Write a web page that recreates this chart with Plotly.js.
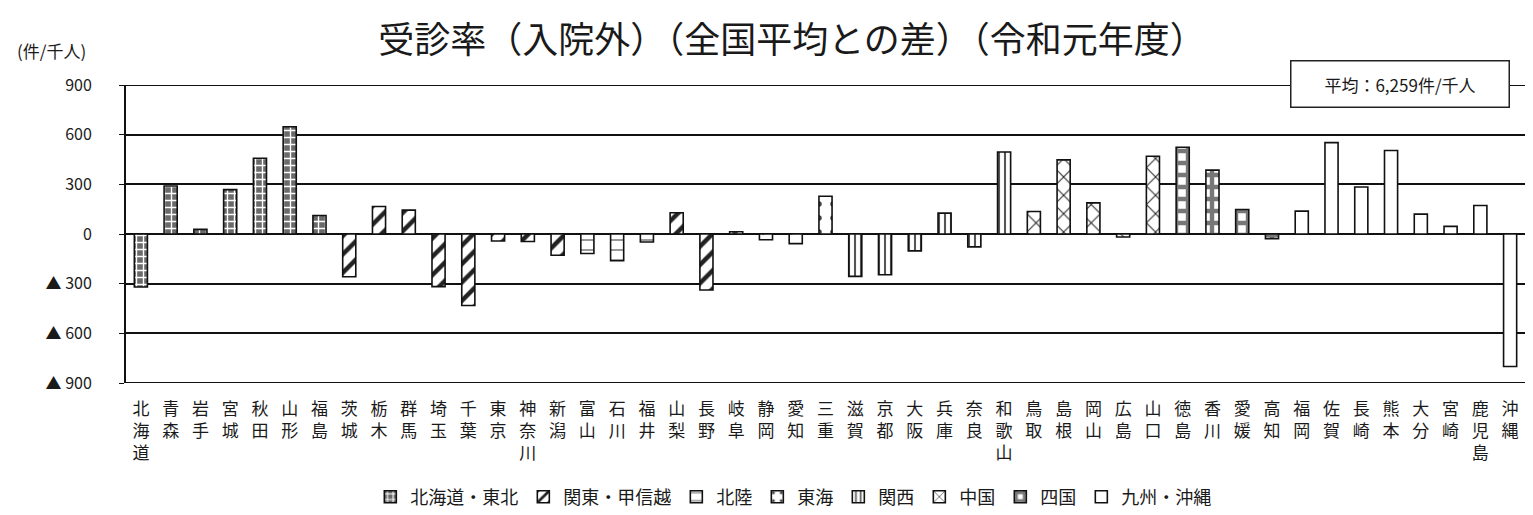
<!DOCTYPE html>
<html>
<head>
<meta charset="utf-8">
<script src="https://cdn.plot.ly/plotly-3.0.1.min.js"></script>
<style>html,body{margin:0;padding:0;background:#fff;}#chart{width:1533px;height:515px;}</style>
</head>
<body>
<div id="chart"></div>
<script>
const prefectures = ["北海道","青森","岩手","宮城","秋田","山形","福島","茨城","栃木","群馬","埼玉","千葉","東京","神奈川","新潟","富山","石川","福井","山梨","長野","岐阜","静岡","愛知","三重","滋賀","京都","大阪","兵庫","奈良","和歌山","鳥取","島根","岡山","広島","山口","徳島","香川","愛媛","高知","福岡","佐賀","長崎","熊本","大分","宮崎","鹿児島","沖縄"];
const values = [-320,290,28,268,458,648,112,-258,166,144,-318,-432,-42,-45,-128,-118,-162,-48,128,-338,14,-35,-58,228,-256,-246,-102,126,-78,495,136,448,188,-18,470,524,386,148,-28,138,552,284,504,120,46,172,-800];
const regionOf = ["北海道・東北","北海道・東北","北海道・東北","北海道・東北","北海道・東北","北海道・東北","北海道・東北",
 "関東・甲信越","関東・甲信越","関東・甲信越","関東・甲信越","関東・甲信越","関東・甲信越","関東・甲信越","関東・甲信越",
 "北陸","北陸","北陸","関東・甲信越","関東・甲信越",
 "東海","東海","東海","東海",
 "関西","関西","関西","関西","関西","関西",
 "中国","中国","中国","中国","中国",
 "四国","四国","四国","四国",
 "九州・沖縄","九州・沖縄","九州・沖縄","九州・沖縄","九州・沖縄","九州・沖縄","九州・沖縄","九州・沖縄"];
const regions = ["北海道・東北","関東・甲信越","北陸","東海","関西","中国","四国","九州・沖縄"];
const yTickVals = [900,600,300,0,-300,-600,-900];
const yTickText = ["900","600","300","0","▲ 300","▲ 600","▲ 900"];
const avgLabel = "平均：6,259件/千人";
const unitLabel = "(件/千人)";
const titleText = "受診率（入院外）（全国平均との差）（令和元年度）";

const styles = {
  "北海道・東北": {bg:"#6a6a6a", fg:"#ffffff", shape:"+", size:7, solidity:0.35},
  "関東・甲信越": {bg:"#ffffff", fg:"#222222", shape:"/", size:13, solidity:0.35},
  "北陸": {bg:"#ffffff", fg:"#777777", shape:"-", size:10, solidity:0.15},
  "東海": {bg:"#ffffff", fg:"#444444", shape:".", size:14, solidity:0.12},
  "関西": {bg:"#ffffff", fg:"#555555", shape:"|", size:6, solidity:0.35},
  "中国": {bg:"#ffffff", fg:"#222222", shape:"x", size:13, solidity:0.15},
  "四国": {bg:"#ffffff", fg:"#777777", shape:"+", size:12, solidity:0.6},
  "九州・沖縄": {bg:"#ffffff", fg:"#ffffff", shape:"", size:8, solidity:0.3}
};

const traces = regions.map(r => {
  const xs = [], ys = [];
  prefectures.forEach((p,i) => { if (regionOf[i] === r) { xs.push(p); ys.push(values[i]); } });
  const s = styles[r];
  return {
    type: "bar", name: r, x: xs, y: ys, width: 0.44,
    marker: {
      color: s.bg,
      line: {color: "#111", width: 1.6},
      pattern: {shape: s.shape, fgcolor: s.fg, bgcolor: s.bg, size: s.size, solidity: s.solidity, fillmode: "replace"}
    },
    hoverinfo: "x+y"
  };
});

const tickText = prefectures.map(p => p.split("").join("<br>"));
const edgeLines = [yTickVals[0], yTickVals[yTickVals.length - 1]].map(v => ({
  type: "line", xref: "paper", yref: "y", x0: 0, x1: 1, y0: v, y1: v,
  line: {color: "#111", width: 2}, layer: "below"
}));

const layout = {
  width: 1533, height: 515,
  margin: {l: 126, r: 8, t: 85, b: 132, autoexpand: false},
  paper_bgcolor: "#fff", plot_bgcolor: "#fff",
  barmode: "overlay",
  font: {family: "Noto Sans CJK JP", color: "#222"},
  title: {text: titleText, x: 792/1533, xanchor: "center", y: 1 - 40/515, yanchor: "middle", yref: "container",
          font: {size: 36, family: "Noto Sans CJK JP", color: "#1a1a1a"}},
  xaxis: {
    type: "category", categoryorder: "array", categoryarray: prefectures,
    tickvals: prefectures, ticktext: tickText, tickangle: 0,
    tickfont: {size: 17, family: "Noto Sans CJK JP", color: "#1a1a1a"},
    ticklabelstandoff: 14,
    showgrid: false, showline: false, ticks: "", zeroline: false,
    range: [-0.5, prefectures.length - 0.5]
  },
  yaxis: {
    range: [-900, 900], tickvals: yTickVals, ticktext: yTickText,
    tickfont: {size: 16, family: "Noto Sans CJK JP", color: "#1a1a1a"},
    showgrid: true, gridcolor: "#111", gridwidth: 2,
    zeroline: true, zerolinecolor: "#111", zerolinewidth: 2,
    showline: true, linecolor: "#111", linewidth: 2,
    ticks: "outside", ticklen: 5, tickcolor: "#111", ticklabelstandoff: 24
  },
  shapes: edgeLines,
  showlegend: true,
  legend: {orientation: "h", x: 0.477, xanchor: "center", y: 18/515, yanchor: "middle", yref: "container",
           font: {size: 18, family: "Noto Sans CJK JP", color: "#1a1a1a"}, itemwidth: 30, traceorder: "normal"},
  annotations: [
    {text: unitLabel, xref: "paper", yref: "paper", x: -0.0793, y: 1.117, xanchor: "left", yanchor: "middle",
     showarrow: false, font: {size: 17, family: "Noto Sans CJK JP", color: "#1a1a1a"}},
    {text: avgLabel, xref: "paper", yref: "paper", x: 0.989, y: 1.003, xanchor: "right", yanchor: "middle",
     showarrow: false, bgcolor: "#fff", bordercolor: "#222", borderwidth: 1.5, borderpad: 6,
     width: 205, height: 33,
     font: {size: 17, family: "Noto Sans CJK JP", color: "#1a1a1a"}}
  ]
};

Plotly.newPlot("chart", traces, layout, {displayModeBar: false, staticPlot: true});
</script>
</body>
</html>
